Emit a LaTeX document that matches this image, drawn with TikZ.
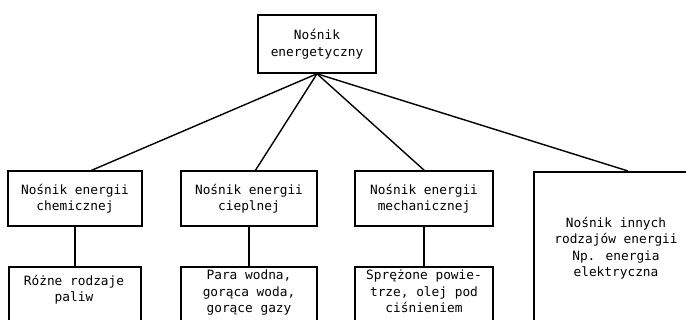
\documentclass[tikz,border=0pt]{standalone}
\usepackage{fontspec}
\newfontfamily\twfont{DejaVu Sans Mono}
\begin{document}
\begin{tikzpicture}[x=1pt,y=-1pt,
  box/.style={draw=black, line width=1.6pt, rectangle, inner sep=0pt, align=center,
    font=\twfont\fontsize{12.8}{16.5}\selectfont},
  txt/.style={inner sep=0pt, align=center, font=\twfont\fontsize{12.8}{16.5}\selectfont},
  link/.style={draw=black, line width=1.4pt}]
\useasboundingbox (0,0) rectangle (686,320);
\clip (0,0) rectangle (686,320);
\fill[white] (0,0) rectangle (686,320);
% top
\node[box, minimum width=118pt, minimum height=58pt] (top) at (317,44) {Nośnik\\energetyczny};
% second row
\node[box, minimum width=134pt, minimum height=55pt] (chem) at (75,198.5) {Nośnik energii\\chemicznej};
\node[box, minimum width=136pt, minimum height=55pt] (heat) at (249,198.5) {Nośnik energii\\cieplnej};
\node[box, minimum width=138pt, minimum height=55pt] (mech) at (424,198.5) {Nośnik energii\\mechanicznej};
\node[box, minimum width=170pt, minimum height=170pt, anchor=north west] (other) at (533,171) {};
\node[txt] (othertxt) at (616,248) {Nośnik innych\\rodzajów energii\\Np. energia\\elektryczna};
% third row
\node[box, minimum width=132pt, minimum height=70pt, anchor=north] (chemlow) at (75,266) {};
\node[box, minimum width=136pt, minimum height=70pt, anchor=north] (heatlow) at (249,266) {};
\node[box, minimum width=138pt, minimum height=70pt, anchor=north] (mechlow) at (424,266) {};
\node[txt, anchor=north] (chemlowtxt) at (74,275) {Różne rodzaje\\paliw};
\node[txt, anchor=north] (heatlowtxt) at (249,270) {Para wodna,\\gorąca woda,\\gorące gazy};
\node[txt, anchor=north] (mechlowtxt) at (424,270) {Sprężone powie-\\trze, olej pod\\ciśnieniem};
% connectors
\coordinate (c1) at (90,171);
\coordinate (c2) at (255,171);
\coordinate (c3) at (425,171);
\coordinate (c4) at (628,171);
\draw[link] (top.south) -- (c1);
\draw[link] (top.south) -- (c2);
\draw[link] (top.south) -- (c3);
\draw[link] (top.south) -- (c4);
\draw[link] (chemlow.north) -- (chemlow.north |- chem.south);
\draw[link] (heatlow.north) -- (heatlow.north |- heat.south);
\draw[link] (mechlow.north) -- (mechlow.north |- mech.south);
\end{tikzpicture}
\end{document}
